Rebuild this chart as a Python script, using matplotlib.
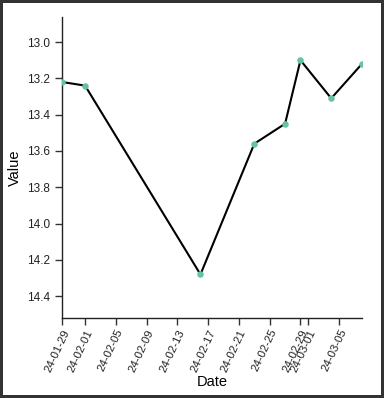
import matplotlib
matplotlib.use("Agg")
import matplotlib.pyplot as plt
import pandas as pd

dates = ["2024-01-29", "2024-02-01", "2024-02-16", "2024-02-23", "2024-02-27",
         "2024-02-29", "2024-03-04", "2024-03-08"]
values = [13.22, 13.24, 14.28, 13.56, 13.45, 13.10, 13.31, 13.12]
tick_dates = ["2024-01-29", "2024-02-01", "2024-02-05", "2024-02-09", "2024-02-13",
              "2024-02-17", "2024-02-21", "2024-02-25", "2024-02-29", "2024-03-01",
              "2024-03-05"]
y_ticks = [13.0, 13.2, 13.4, 13.6, 13.8, 14.0, 14.2, 14.4]

plt.rcParams['font.family'] = ['Liberation Sans', 'DejaVu Sans']

x = pd.to_datetime(dates)
fig = plt.figure(figsize=(3.84, 3.98), dpi=100, edgecolor='#333333', linewidth=3)
ax = fig.add_axes([62/384, 1 - 318/398, 300/384, 301/398])
ax.plot(x, values, color='black', linewidth=1.5, zorder=2)
ax.scatter(x, values, s=22, color='#66c2a5', zorder=3, linewidths=0)

ax.set_xlim(x[0], x[-1])
ax.set_ylim(14.52, 12.862)
ax.set_yticks(y_ticks)
ax.set_yticklabels([f"{v:.1f}" for v in y_ticks])
td = pd.to_datetime(tick_dates)
ax.set_xticks(td)
ax.set_xticklabels([d.strftime("%y-%m-%d") for d in td], rotation=65,
                   ha='right', va='top', rotation_mode='anchor')
ax.tick_params(axis='both', labelsize=8.5, length=5, width=1, color='#333333',
               labelcolor='#222222')
ax.tick_params(axis='x', pad=2, labelsize=8.2)
for s in ['top', 'right']:
    ax.spines[s].set_visible(False)
for s in ['left', 'bottom']:
    ax.spines[s].set_color('#222222')
    ax.spines[s].set_linewidth(1)
ax.set_xlabel("Date", fontsize=10.5)
ax.set_ylabel("Value", fontsize=10.5)
ax.xaxis.set_label_coords(0.5, -(382 - 318) / 301)
ax.xaxis.label.set_va('center')
ax.yaxis.set_label_coords(-(62 - 15) / 300, 0.5)
ax.yaxis.label.set_va('center')
fig.savefig("out.png", dpi=100, edgecolor=fig.get_edgecolor())
